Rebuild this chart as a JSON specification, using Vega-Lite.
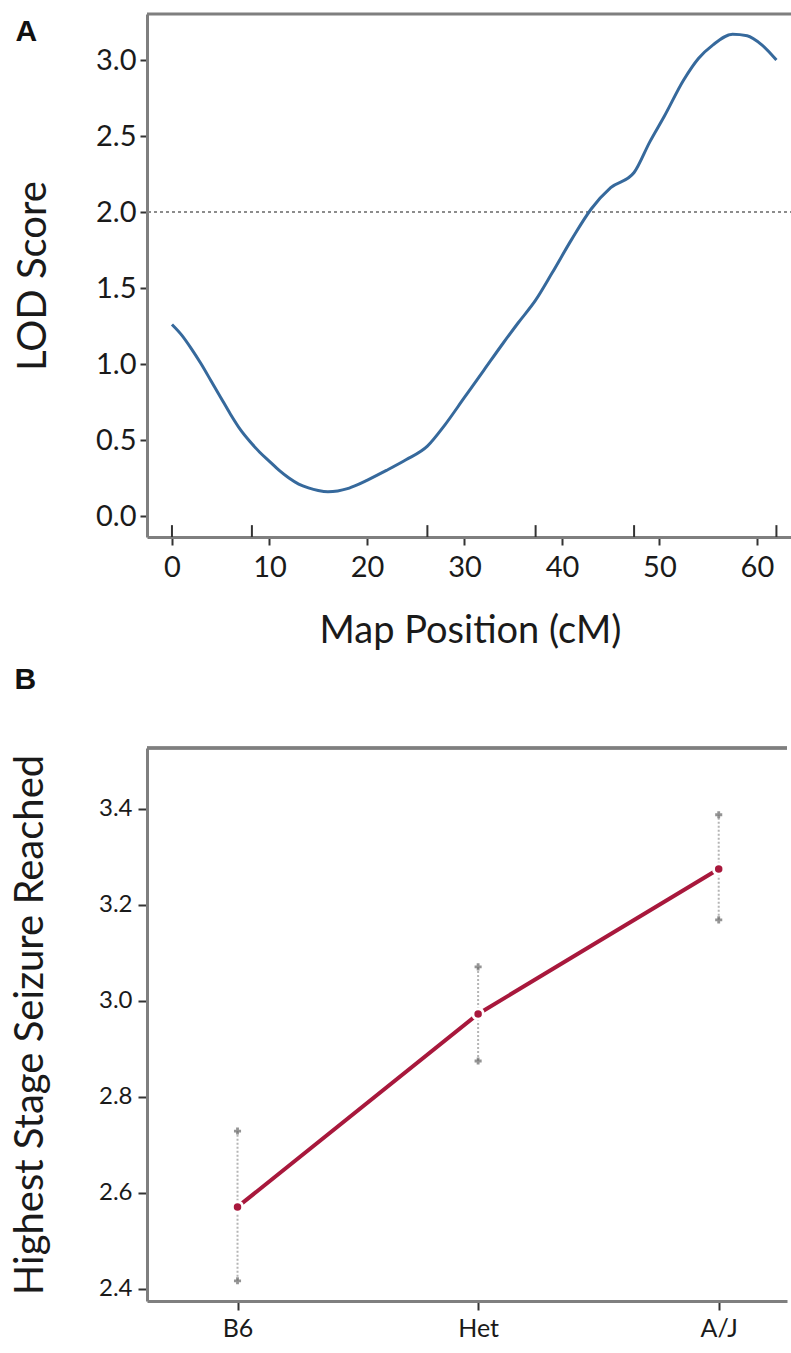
{
  "$schema": "https://vega.github.io/schema/vega-lite/v6.json",
  "padding": {"left": 10, "top": 12, "right": 0, "bottom": 0},
  "background": "white",
  "spacing": 14,
  "config": {"font": "Lato", "view": {"stroke": null}},
  "vconcat": [
    {
      "width": 646,
      "height": 523,
      "title": {"text": "A", "anchor": "start", "frame": "bounds", "orient": "top", "offset": -58, "baseline": "alphabetic", "font": "Liberation Sans", "fontSize": 30, "fontWeight": "bold", "dx": 2, "color": "#111"},
      "layer": [
        {
          "data": {"values": [{"threshold": 2}]},
          "mark": {"type": "rule", "color": "#8c8c8c", "strokeDash": [3, 3], "strokeWidth": 2},
          "encoding": {"y": {"field": "threshold", "type": "quantitative"}}
        },
        {
          "data": {"values": [{"top": 3.303}]},
          "mark": {"type": "rule", "color": "#7f7f7f", "strokeWidth": 3},
          "encoding": {"y": {"field": "top", "type": "quantitative"}}
        },
        {
          "data": {"values": [
            {"pos": 0, "lod": 1.26}, {"pos": 1, "lod": 1.19}, {"pos": 2, "lod": 1.1}, {"pos": 3, "lod": 1.0},
            {"pos": 4, "lod": 0.89}, {"pos": 5, "lod": 0.78}, {"pos": 6, "lod": 0.67}, {"pos": 7, "lod": 0.57},
            {"pos": 8, "lod": 0.49}, {"pos": 9, "lod": 0.42}, {"pos": 10, "lod": 0.36}, {"pos": 11, "lod": 0.3},
            {"pos": 12, "lod": 0.25}, {"pos": 13, "lod": 0.21}, {"pos": 14, "lod": 0.185}, {"pos": 15, "lod": 0.168},
            {"pos": 16, "lod": 0.16}, {"pos": 17, "lod": 0.165}, {"pos": 18, "lod": 0.18}, {"pos": 19, "lod": 0.205},
            {"pos": 20, "lod": 0.235}, {"pos": 22, "lod": 0.3}, {"pos": 24, "lod": 0.37}, {"pos": 26.2, "lod": 0.46},
            {"pos": 28, "lod": 0.6}, {"pos": 30, "lod": 0.78}, {"pos": 32, "lod": 0.96}, {"pos": 34, "lod": 1.14},
            {"pos": 35.5, "lod": 1.27}, {"pos": 37.3, "lod": 1.42}, {"pos": 39, "lod": 1.6}, {"pos": 41, "lod": 1.82},
            {"pos": 43, "lod": 2.02}, {"pos": 45, "lod": 2.16}, {"pos": 47.4, "lod": 2.26}, {"pos": 49, "lod": 2.46},
            {"pos": 50.5, "lod": 2.63}, {"pos": 52.5, "lod": 2.87}, {"pos": 54, "lod": 3.01}, {"pos": 55.5, "lod": 3.1},
            {"pos": 57.5, "lod": 3.17}, {"pos": 59, "lod": 3.16}, {"pos": 60.5, "lod": 3.1}, {"pos": 62, "lod": 3.0}
          ]},
          "mark": {"type": "line", "color": "#36699c", "strokeWidth": 3, "interpolate": "monotone"},
          "encoding": {
            "x": {"field": "pos", "type": "quantitative", "scale": {"domain": [-2.56, 63.7], "nice": false, "zero": false},
              "axis": {"title": "Map Position (cM)", "values": [0, 10, 20, 30, 40, 50, 60], "grid": false, "domainColor": "#7f7f7f", "domainWidth": 3, "tickColor": "#333", "tickWidth": 2, "tickSize": 8, "labelFontSize": 29, "labelColor": "#1a1a1a", "labelPadding": 8, "titleFontSize": 38, "titleFontWeight": "normal", "titleColor": "#1a1a1a", "titlePadding": 30}},
            "y": {"field": "lod", "type": "quantitative", "scale": {"domain": [-0.138, 3.303], "nice": false, "zero": false},
              "axis": {"title": "LOD Score", "values": [0, 0.5, 1, 1.5, 2, 2.5, 3], "format": ".1f", "grid": false, "domainColor": "#7f7f7f", "domainWidth": 3, "tickColor": "#333", "tickWidth": 2, "tickSize": 7, "labelFontSize": 29, "labelColor": "#1a1a1a", "labelPadding": 4, "titleFontSize": 40, "titleFontWeight": "normal", "titleColor": "#1a1a1a", "titlePadding": 42}}
          }
        },
        {
          "data": {"values": [{"marker": 0}, {"marker": 8.2}, {"marker": 26.2}, {"marker": 37.3}, {"marker": 47.4}, {"marker": 62.0}]},
          "mark": {"type": "rule", "color": "#333", "strokeWidth": 2},
          "encoding": {
            "x": {"field": "marker", "type": "quantitative"},
            "y": {"datum": -0.138, "type": "quantitative"},
            "y2": {"datum": -0.06}
          }
        }
      ]
    },
    {
      "width": 640,
      "height": 553,
      "title": {"text": "B", "anchor": "start", "frame": "bounds", "orient": "top", "offset": 28, "baseline": "alphabetic", "font": "Liberation Sans", "fontSize": 30, "fontWeight": "bold", "dx": 4, "color": "#111"},
      "data": {"values": [
        {"genotype": "B6", "mean": 2.571, "lo": 2.417, "hi": 2.729},
        {"genotype": "Het", "mean": 2.973, "lo": 2.875, "hi": 3.071},
        {"genotype": "A/J", "mean": 3.275, "lo": 3.169, "hi": 3.388}
      ]},
      "layer": [
        {
          "mark": {"type": "rule", "color": "#7f7f7f", "strokeWidth": 3},
          "encoding": {"y": {"datum": 3.527, "type": "quantitative"}}
        },
        {
          "mark": {"type": "rule", "color": "#b5b5b5", "strokeWidth": 2, "strokeDash": [2, 2]},
          "encoding": {
            "x": {"field": "genotype", "type": "nominal", "sort": null},
            "y": {"field": "lo", "type": "quantitative"},
            "y2": {"field": "hi"}
          }
        },
        {
          "mark": {"type": "point", "shape": "cross", "filled": true, "color": "#666666", "size": 50},
          "encoding": {
            "x": {"field": "genotype", "type": "nominal", "sort": null},
            "y": {"field": "lo", "type": "quantitative"}
          }
        },
        {
          "mark": {"type": "point", "shape": "cross", "filled": true, "color": "#666666", "size": 50},
          "encoding": {
            "x": {"field": "genotype", "type": "nominal", "sort": null},
            "y": {"field": "hi", "type": "quantitative"}
          }
        },
        {
          "mark": {"type": "line", "color": "#a8183c", "strokeWidth": 4},
          "encoding": {
            "x": {"field": "genotype", "type": "nominal", "sort": null},
            "y": {"field": "mean", "type": "quantitative"}
          }
        },
        {
          "mark": {"type": "point", "shape": "circle", "filled": true, "color": "#a8183c", "size": 110, "stroke": "white", "strokeWidth": 3, "opacity": 1},
          "encoding": {
            "x": {"field": "genotype", "type": "nominal", "sort": ["B6", "Het", "A/J"],
              "scale": {"type": "point", "domain": ["B6", "Het", "A/J"], "padding": 0.33, "align": 0.57},
              "axis": {"title": null, "labelAngle": 0, "labelAlign": "center", "domainColor": "#7f7f7f", "domainWidth": 3, "tickColor": "#333", "tickWidth": 2, "tickSize": 9, "labelFontSize": 25, "labelColor": "#1a1a1a", "labelPadding": 18}},
            "y": {"field": "mean", "type": "quantitative", "scale": {"domain": [2.375, 3.527], "nice": false, "zero": false},
              "axis": {"title": "Highest Stage Seizure Reached", "values": [2.4, 2.6, 2.8, 3.0, 3.2, 3.4], "format": ".1f", "grid": false, "domainColor": "#7f7f7f", "domainWidth": 3, "tickColor": "#333", "tickWidth": 2, "tickSize": 9, "labelFontSize": 24, "labelColor": "#1a1a1a", "labelPadding": 6, "titleFontSize": 40, "titleFontWeight": "normal", "titleColor": "#1a1a1a", "titlePadding": 48}}
          }
        }
      ]
    }
  ]
}
